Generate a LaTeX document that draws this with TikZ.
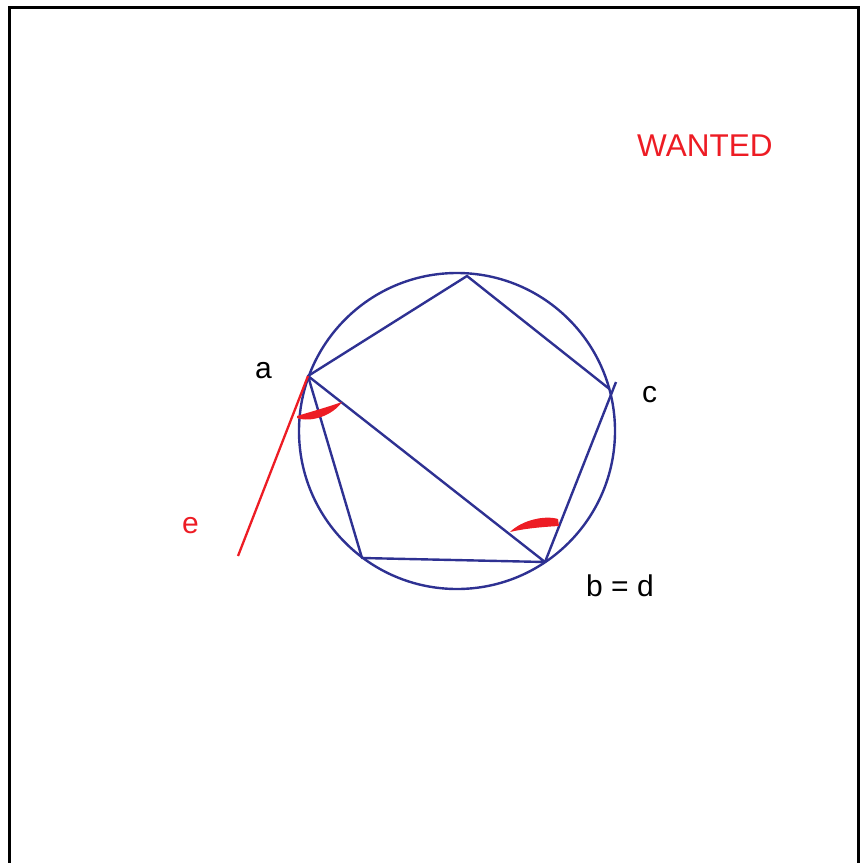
\documentclass[tikz,border=0pt]{standalone}
\usepackage{fontspec}
\setmainfont{Liberation Sans}
\definecolor{pblue}{RGB}{46,49,146}
\definecolor{pred}{RGB}{237,28,36}
\begin{document}
\begin{tikzpicture}[x=1pt,y=-1pt,
  edge/.style={pblue,line width=2.4pt,line join=round},
  redline/.style={pred,line width=2.3pt},
  lab/.style={font=\fontsize{30}{36}\selectfont,inner sep=0pt,anchor=base west}]
\useasboundingbox (0,0) rectangle (864,862);
\draw[line width=3pt] (9.5,875) -- (9.5,7.5) -- (858.5,7.5) -- (858.5,875);
\coordinate (O) at (457,431);
\coordinate (T) at (467,276);
\coordinate (C) at (609.5,389);
\coordinate (Cx) at (616,382);
\coordinate (B) at (545,562);
\coordinate (L) at (362,558);
\coordinate (A) at (308,376);
\coordinate (E) at (238,556);
\draw[edge] (O) circle (158pt);
\draw[edge] (A) -- (T) -- (C);
\draw[edge] (B) -- (Cx);
\draw[edge] (B) -- (L) -- (A) -- (B);
\draw[redline] (A) -- (E);
\fill[pred] (297,416) .. controls (310,412) and (328,407) .. (342,402)
  .. controls (333,415) and (312,423) .. (297,418) -- cycle;
\fill[pred] (510,532) .. controls (522,520) and (545,515) .. (558,519)
  -- (559,526) .. controls (540,527) and (522,529) .. cycle;
\node[lab] (a) at (255,378) {a};
\node[lab] (c) at (642,402) {c};
\node[lab] (bd) at (586,596) {b = d};
\node[lab,text=pred] (e) at (182,533) {e};
\node[lab,text=pred,font=\fontsize{31.5}{38}\selectfont] (w) at (637,156) {WANTED};
\end{tikzpicture}
\end{document}
